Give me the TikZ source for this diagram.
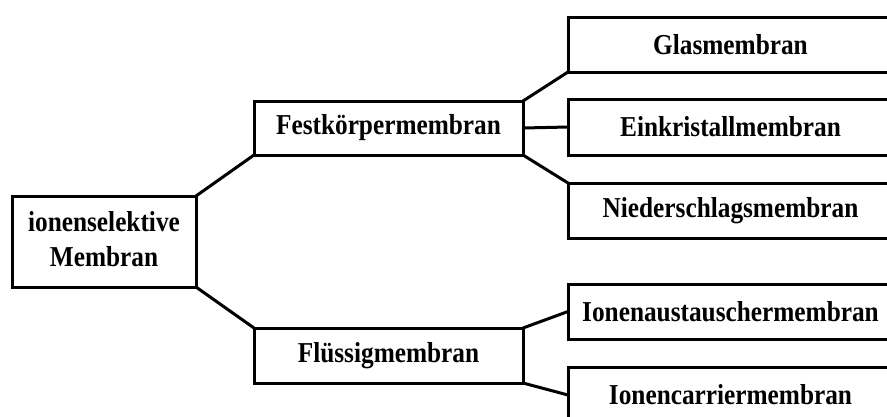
\documentclass[tikz,border=0pt]{standalone}
\usepackage{fontspec}
\usepackage{graphicx}
\setmainfont{Liberation Serif}
% taller letters, as in the reference
\newcommand{\tall}[1]{\scalebox{1}[1.14]{#1}}
\begin{document}
\begin{tikzpicture}[x=1pt, y=-1pt, line width=3pt,
  every node/.style={font=\fontsize{25.3}{30.7}\selectfont\bfseries},
  box/.style={draw, rectangle, outer sep=0pt, inner sep=0pt, align=center}]
% Picture area (boxes on the right run past the edge)
\clip (0,0) rectangle (887,416);
% Root
\node[box, minimum width=184pt, minimum height=91pt] (root) at (104,241.5) {\tall{\begin{tabular}{@{}c@{}}ionenselektive\\Membran\end{tabular}}};
% Second level
\node[box, minimum width=269pt, minimum height=54pt] (fest) at (388.5,128) {\tall{Festkörpermembran}};
\node[box, minimum width=269pt, minimum height=55pt] (fluessig) at (388.5,355.5) {\tall{Flüssigmembran}};
% Third level
\node[box, minimum width=325pt, minimum height=55pt] (glas) at (730.5,44.5) {\tall{Glasmembran}};
\node[box, minimum width=325pt, minimum height=56pt] (einkristall) at (730.5,127) {\tall{Einkristallmembran}};
\node[box, minimum width=325pt, minimum height=55pt] (nieder) at (730.5,210.5) {\tall{Niederschlagsmembran}};
\node[box, minimum width=325pt, minimum height=55pt] (austausch) at (730.5,311.5) {\tall{Ionenaustauschermembran}};
\node[box, minimum width=325pt, minimum height=56pt] (carrier) at (730.5,395) {\tall{Ionencarriermembran}};
% Connectors
\draw (root.north east) -- (fest.south west); \draw (root.south east) -- (fluessig.north west);
\draw (fest.north east) -- (glas.south west); \draw (fest.east) -- (einkristall.west); \draw (fest.south east) -- (nieder.north west);
\draw (fluessig.north east) -- (austausch.west); \draw (fluessig.south east) -- (carrier.west);
\end{tikzpicture}
\end{document}
